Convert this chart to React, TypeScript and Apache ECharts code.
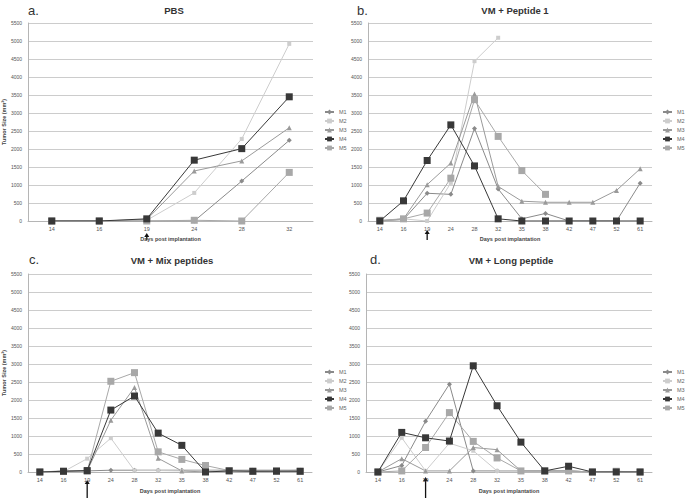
import React, { useEffect, useRef } from "react";
import * as echarts from "echarts";

// ---------- data ----------
const daysShort = ["14", "16", "19", "24", "28", "32"];
const daysLong = ["14", "16", "19", "24", "28", "32", "35", "38", "42", "47", "52", "61"];
const mice = ["M1", "M2", "M3", "M4", "M5"];
const yTicks = { min: 0, max: 5500, interval: 500 };

// a. PBS
const pbsM1 = [0, 0, 0, 0, 1110, 2240];
const pbsM2 = [0, 0, 20, 780, 2280, 4920];
const pbsM3 = [0, 0, 40, 1390, 1670, 2590];
const pbsM4 = [0, 0, 60, 1690, 2010, 3450];
const pbsM5 = [0, 0, 0, 20, 0, 1350];

// b. VM + Peptide 1
const pep1M1 = [0, 40, 770, 740, 2570, 890, 60, 210, 0, 0, 0, 1050];
const pep1M2 = [0, 60, 0, 1060, 4440, 5090, null, null, null, null, null, null];
const pep1M3 = [0, 60, 1010, 1610, 3530, 960, 550, 520, 520, 520, 850, 1450];
const pep1M4 = [0, 560, 1680, 2670, 1530, 60, 0, 0, 0, 0, 0, 0];
const pep1M5 = [20, 60, 220, 1190, 3370, 2350, 1400, 740, null, null, null, null];

// c. VM + Mix peptides
const mixM1 = [0, 30, 30, 50, 50, 50, 50, 50, 50, 50, 50, 50];
const mixM2 = [0, 10, 370, 940, 40, 40, 30, 30, 30, 30, 30, 30];
const mixM3 = [0, 20, 30, 1440, 2350, 380, 30, 0, 30, 30, 30, 50];
const mixM4 = [0, 20, 40, 1720, 2110, 1080, 740, 0, 30, 20, 20, 20];
const mixM5 = [0, 20, 20, 2520, 2760, 560, 350, 180, 40, 20, 40, 20];

// d. VM + Long peptide
const longM1 = [0, 180, 1410, 2440, 30, 30, 30, 30, 30, 0, 0, 0];
const longM2 = [0, 950, 30, 800, 590, 30, 30, 30, 30, 0, 0, 0];
const longM3 = [0, 370, 30, 30, 680, 620, 30, 30, 30, 0, 0, 0];
const longM4 = [0, 1100, 950, 860, 2950, 1840, 830, 30, 160, 0, 0, 0];
const longM5 = [0, 30, 680, 1650, 850, 390, 30, 30, 30, 0, 20, 0];

const panelLetters = ["a.", "b.", "c.", "d."];
const panelTitles = ["PBS", "VM + Peptide 1", "VM + Mix peptides", "VM + Long peptide"];
const panelDays = [daysShort, daysLong, daysLong, daysLong];
const panelData = [
  [pbsM1, pbsM2, pbsM3, pbsM4, pbsM5],
  [pep1M1, pep1M2, pep1M3, pep1M4, pep1M5],
  [mixM1, mixM2, mixM3, mixM4, mixM5],
  [longM1, longM2, longM3, longM4, longM5],
];
const xTitle = "Days post implantation";
const yTitle = "Tumor Size (mm³)";
const arrowDay = "19";

// ---------- styling / layout ----------
const FONT = "Liberation Sans, Arial, sans-serif";
const seriesStyle = [
  { color: "#8a8a8a", symbol: "diamond", size: 5 },
  { color: "#cdcdcd", symbol: "rect", size: 4 },
  { color: "#9a9a9a", symbol: "triangle", size: 5 },
  { color: "#383838", symbol: "rect", size: 7 },
  { color: "#a8a8a8", symbol: "rect", size: 7 },
];
const grids = [
  { left: 28, top: 23, width: 285, height: 198 },
  { left: 368, top: 23, width: 284, height: 198 },
  { left: 28, top: 274, width: 284, height: 198 },
  { left: 366, top: 274, width: 286, height: 198 },
];
const layout = [
  { letterX: 28, letterY: 4, titleX: 174, titleY: 5, legX: 324, legY: 109, showY: true, arrow: [12, 19], nameGap: 15 },
  { letterX: 357, letterY: 4, titleX: 515, titleY: 5, legX: 662, legY: 109, showY: false, arrow: [9, 19], nameGap: 15 },
  { letterX: 29, letterY: 253, titleX: 172, titleY: 255, legX: 324, legY: 369, showY: true, arrow: [8, 26], nameGap: 16 },
  { letterX: 370, letterY: 253, titleX: 511, titleY: 255, legX: 662, legY: 369, showY: false, arrow: [5, 26], nameGap: 16 },
];

export default function App() {
  const ref = useRef<HTMLDivElement>(null);

  useEffect(() => {
    document.body.style.margin = "0";
    if (!ref.current) return;
    const chart = echarts.init(ref.current, undefined, { renderer: "svg" });

    const title: any[] = [];
    const legend: any[] = [];
    const xAxis: any[] = [];
    const yAxis: any[] = [];
    const series: any[] = [];

    panelTitles.forEach((t, i) => {
      const L = layout[i];
      title.push({
        text: panelLetters[i],
        left: L.letterX,
        top: L.letterY,
        padding: 0,
        textStyle: { fontSize: 13, fontWeight: "normal", color: "#333", fontFamily: FONT },
      });
      title.push({
        text: t,
        left: L.titleX,
        top: L.titleY,
        padding: 0,
        textAlign: "center",
        textStyle: { fontSize: 9.5, fontWeight: "bold", color: "#333", fontFamily: FONT },
      });
      legend.push({
        orient: "vertical",
        left: L.legX,
        top: L.legY,
        padding: 0,
        itemGap: 3,
        itemWidth: 9,
        itemHeight: 6,
        data: mice,
        selectedMode: false,
        textStyle: { fontSize: 5.5, color: "#666", fontFamily: FONT, lineHeight: 6 },
      });
      xAxis.push({
        type: "category",
        gridIndex: i,
        data: panelDays[i],
        boundaryGap: true,
        name: xTitle,
        nameLocation: "middle",
        nameGap: L.nameGap,
        nameTextStyle: { fontSize: 5.5, fontWeight: "bold", color: "#444", fontFamily: FONT },
        axisLine: { lineStyle: { color: "#b5b5b5", width: 1 } },
        axisTick: { show: false },
        axisLabel: { fontSize: 5.5, color: "#555", margin: 5, fontFamily: FONT, interval: 0 },
        splitLine: { show: false },
      });
      yAxis.push({
        type: "value",
        gridIndex: i,
        min: yTicks.min,
        max: yTicks.max,
        interval: yTicks.interval,
        name: L.showY ? yTitle : "",
        nameLocation: "middle",
        nameRotate: 90,
        nameGap: 20,
        nameTextStyle: { fontSize: 5.5, fontWeight: "bold", color: "#444", fontFamily: FONT },
        axisLine: { show: true, lineStyle: { color: "#b5b5b5", width: 1 } },
        axisTick: { show: false },
        axisLabel: { fontSize: 5, color: "#555", margin: 6, fontFamily: FONT, formatter: (v: number) => String(v) },
        splitLine: { show: true, lineStyle: { color: "#cccccc", width: 1 } },
      });
      mice.forEach((m, j) => {
        const s = seriesStyle[j];
        series.push({
          type: "line",
          name: m,
          xAxisIndex: i,
          yAxisIndex: i,
          data: panelData[i][j],
          symbol: s.symbol,
          symbolSize: s.size,
          connectNulls: false,
          lineStyle: { color: s.color, width: 1 },
          itemStyle: { color: s.color },
          z: j === 3 ? 4 : 2,
        });
      });
    });

    chart.setOption({
      animation: false,
      backgroundColor: "#ffffff",
      textStyle: { fontFamily: FONT },
      title,
      legend,
      grid: grids.map((g) => ({ ...g, containLabel: false })),
      xAxis,
      yAxis,
      series,
    });

    const graphic: any[] = [];
    layout.forEach((L, i) => {
      const x = chart.convertToPixel({ xAxisIndex: i } as any, arrowDay) as number;
      const y0 = chart.convertToPixel({ yAxisIndex: i } as any, 0) as number;
      const tip = y0 + L.arrow[0];
      const tail = y0 + L.arrow[1];
      graphic.push({
        type: "line",
        shape: { x1: x, y1: tip + 3, x2: x, y2: tail },
        style: { stroke: "#111", lineWidth: 1.3 },
        silent: true,
      });
      graphic.push({
        type: "polygon",
        shape: { points: [[x - 2.5, tip + 4], [x + 2.5, tip + 4], [x, tip]] },
        style: { fill: "#111" },
        silent: true,
      });
    });
    chart.setOption({ graphic });

    return () => chart.dispose();
  }, []);

  return <div ref={ref} style={{ width: 685, height: 499 }} />;
}
